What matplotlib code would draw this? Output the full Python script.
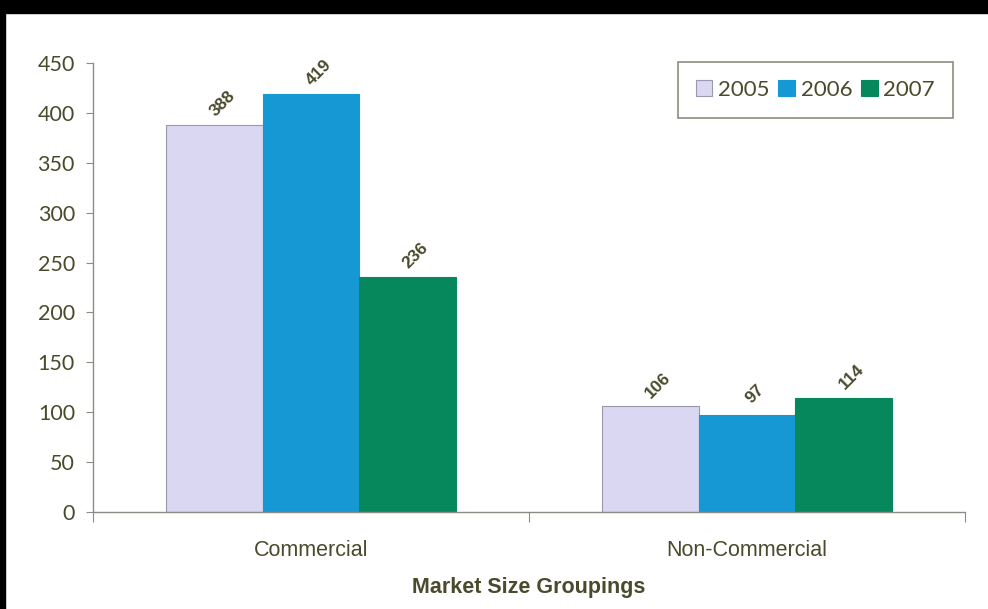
import numpy as np
import matplotlib.pyplot as plt
from matplotlib.patches import Rectangle

# data
categories = ['Commercial', 'Non-Commercial']
years = ['2005', '2006', '2007']
vals_2005 = [388, 106]
vals_2006 = [419, 97]
vals_2007 = [236, 114]

series = [vals_2005, vals_2006, vals_2007]
colors = ['#d9d7f1', '#1598d4', '#06875c']
edges = ['#9a98aa', '#1598d4', '#06875c']
txt = '#4a4a2c'
axc = '#8c8c84'

fig = plt.figure(figsize=(9.88, 6.09), dpi=100)
fig.patch.set_facecolor('white')
# black scan border at top and left
fig.patches.append(Rectangle((0, 1 - 13 / 609), 1, 13 / 609, transform=fig.transFigure,
                             color='black', zorder=0))
fig.patches.append(Rectangle((0, 0), 5 / 988, 1, transform=fig.transFigure,
                             color='black', zorder=0))

ax = fig.add_axes([93 / 988, 97 / 609, 872 / 988, 449 / 609])
x = np.arange(len(categories))
w = 0.222

for i, (vals, c, ec, yr) in enumerate(zip(series, colors, edges, years)):
    pos = x + (i - 1) * w
    ax.bar(pos, vals, w, color=c, edgecolor=ec, linewidth=0.8, label=yr)
    for p, v in zip(pos, vals):
        ax.annotate(str(v), (p, v), xytext=(8, 21), textcoords='offset pixels',
                    ha='center', va='center', rotation=45, rotation_mode='anchor',
                    fontsize=12.5, fontweight='bold', color=txt, family='Liberation Sans')

ax.set_xlim(-0.5, 1.5)
ax.set_ylim(0, 450)
ax.set_yticks(np.arange(0, 451, 50))
ax.set_xticks([-0.5, 0.5, 1.5])
ax.set_xticklabels([])
ax.set_xticks(x, minor=True)
ax.set_xticklabels(categories, minor=True, fontsize=15.5, color=txt, family='Liberation Sans')
ax.tick_params(axis='x', which='minor', length=0, pad=20)
ax.tick_params(axis='x', which='major', length=7, color=axc, direction='out')
ax.tick_params(axis='y', length=5, color=axc, labelsize=15.5, labelcolor=txt, pad=8)
for lab in ax.get_yticklabels():
    lab.set_family('Lato')

for s in ['top', 'right']:
    ax.spines[s].set_visible(False)
for s in ['left', 'bottom']:
    ax.spines[s].set_color(axc)
    ax.spines[s].set_linewidth(1)

ax.set_xlabel('Market Size Groupings', fontsize=15.5, fontweight='bold', color=txt,
              family='Liberation Sans', labelpad=12)

leg = ax.legend(loc='upper right', bbox_to_anchor=(0.986, 1.002), ncol=3, frameon=True,
                fancybox=False, handlelength=0.75, handleheight=0.75, handletextpad=0.25,
                columnspacing=0.4, borderpad=0.8, borderaxespad=0,
                prop={'family': 'Lato', 'size': 16})
leg.get_frame().set_edgecolor('#6f6f60')
leg.get_frame().set_linewidth(1.2)
for t in leg.get_texts():
    t.set_color(txt)

fig.savefig('out.png', dpi=100)
